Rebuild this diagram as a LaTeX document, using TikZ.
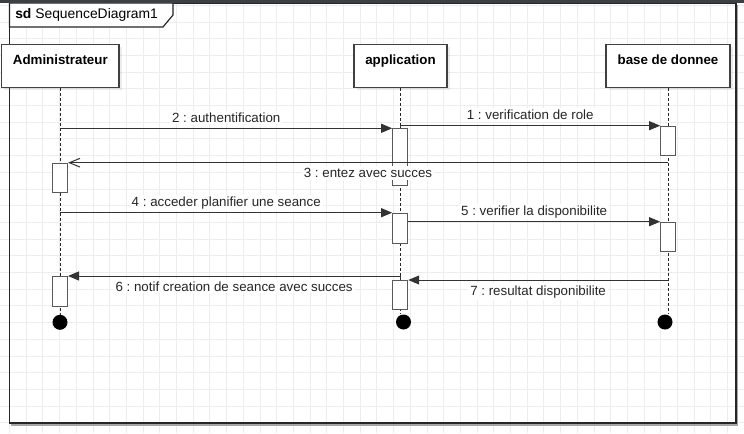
\documentclass[tikz,border=0pt]{standalone}
\usepackage{fontspec}
\setmainfont{Liberation Sans}
\usetikzlibrary{arrows.meta}
\usetikzlibrary{shadows}
\frenchspacing
\definecolor{topbar}{HTML}{3C4043}
\definecolor{gridline}{HTML}{EDEDED}
\tikzset{head/.style = {draw=black!75, fill=white, line width=0.8pt,
                        font=\fontsize{10}{12}\selectfont\bfseries, anchor=north,
                        inner xsep=2pt, inner ysep=7pt, text height=8pt, text depth=10.25pt,
                        drop shadow={opacity=0.15, shadow xshift=2pt, shadow yshift=-2pt}}}
\tikzset{act/.style = {draw=black!65, fill=white, line width=0.75pt, minimum width=11.25pt, inner sep=0, anchor=north}}
\tikzset{lifeline/.style = {black!85, line width=0.75pt, dash pattern=on 2.25pt off 1.5pt}}
\tikzset{msg/.style = {black!80, line width=0.75pt, -{Triangle[length=8.25pt, width=6.75pt]}}}
\tikzset{reply/.style = {black!80, line width=0.75pt, -{Straight Barb[length=8pt, width=6.5pt]}}}
\tikzset{lbl/.style = {font=\fontsize{10}{12}\selectfont, text=black!85, fill=white, inner sep=1.5pt, anchor=base}}
\tikzset{endpt/.style = {circle, fill=black, inner sep=0, minimum size=11.25pt}}

\begin{document}
\begin{tikzpicture}[x=0.75pt, y=-0.75pt]
    \useasboundingbox (0,0) rectangle (744,433);
    \foreach \i in {0,...,44} \draw[gridline, line width=0.75pt] (9.5+16.7*\i,0) -- (9.5+16.7*\i,433);
    \foreach \j in {0,...,25} \draw[gridline, line width=0.75pt] (0,5.3+16.7*\j) -- (744,5.3+16.7*\j);
    \draw[black!35, line width=1.2pt] (737.5,5) -- (737.5,424.8) -- (11,424.8);
    \draw[black!85, line width=0.9pt] (9.5,3) rectangle (736,423);
    \draw[black!85, line width=0.9pt, fill=white] (9.5,3) -- (173,3) -- (173,15) -- (163,27) -- (9.5,27) -- cycle;
    \node [anchor=base west, inner sep=0, font=\fontsize{10.4}{12}\selectfont] (sdlbl) at (15,18) {\textbf{sd} SequenceDiagram1};
    \fill[topbar] (0,0) rectangle (744,3);

    \node [head, minimum width=88pt] (adm) at (60.3,44) {Administrateur};
    \node [head, minimum width=69.75pt] (app) at (400.5,44) {application};
    \node [head, minimum width=93pt] (db) at (668,44) {base de donnee};

    \node [endpt] (admEnd) at (60,322.3) {};
    \node [endpt] (appEnd) at (403.5,322) {};
    \node [endpt] (dbEnd) at (665,322) {};
    \draw[lifeline] (adm.south) -- (adm.south |- admEnd.north);
    \draw[lifeline] (app.south) -- (app.south |- appEnd.north);
    \draw[lifeline] (db.south) -- (db.south |- dbEnd.north);

    \node [act, minimum height=22.2pt] (admA1) at (60,162.7) {};
    \node [act, minimum height=22.3pt] (admA2) at (60,276) {};
    \node [act, minimum height=42.5pt] (appA1) at (400.2,128.3) {};
    \node [act, minimum height=22.5pt] (appA2) at (400.2,212.7) {};
    \node [act, minimum height=22pt] (appA3) at (400.2,280) {};
    \node [act, minimum height=22pt] (dbA1) at (668.2,125.7) {};
    \node [act, minimum height=21.75pt] (dbA2) at (668.2,221.7) {};

    \draw[msg] (adm |- appA1.north west) -- (appA1.north west) node [lbl, midway, yshift=4.5pt] {2 : authentification};
    \draw[msg] (appA1.north) -- (appA1.north |- dbA1.north west) -- (dbA1.north west) node [lbl, midway, yshift=4.5pt] {1 : verification de role};
    \draw[reply] (db |- admA1.north east) -- (admA1.north east) node [lbl, midway, yshift=-11.25pt] {3 : entez avec succes};
    \draw[msg] (adm |- appA2.north west) -- (appA2.north west) node [lbl, midway, yshift=4.5pt] {4 : acceder planifier une seance};
    \draw[msg] (appA2.east |- dbA2.north west) -- (dbA2.north west) node [lbl, midway, yshift=4.5pt] {5 : verifier la disponibilite};
    \draw[msg] (db |- appA3.north east) -- (appA3.north east) node [lbl, midway, yshift=-11.25pt] {7 : resultat disponibilite};
    \draw[msg] (appA3.north) -- (appA3.north |- admA2.north east) -- (admA2.north east) node [lbl, midway, yshift=-11.25pt] {6 : notif creation de seance avec succes};
\end{tikzpicture}
\end{document}
